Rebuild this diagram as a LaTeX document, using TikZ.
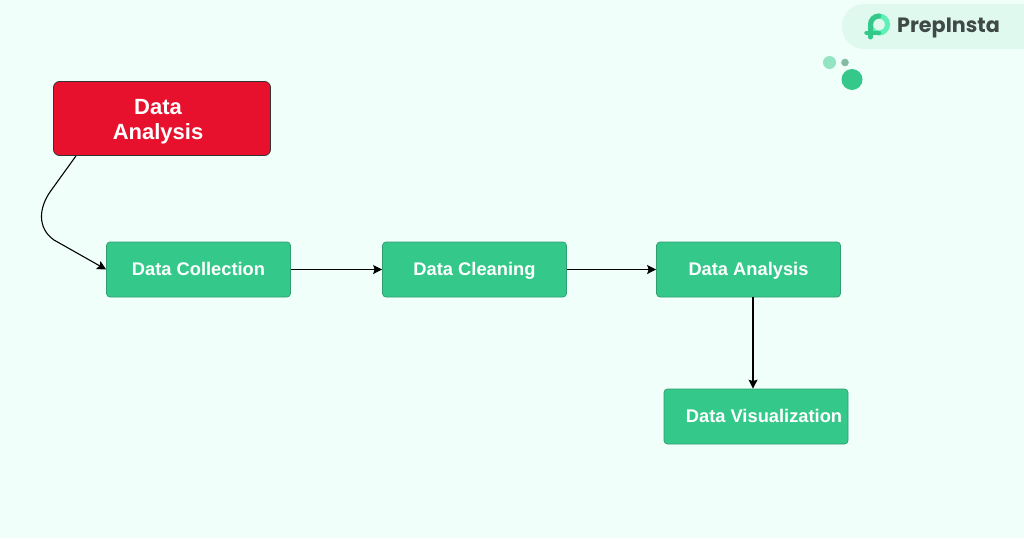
\documentclass[tikz,border=0pt]{standalone}
\usepackage{fontspec}
\setmainfont{Liberation Sans}
\newfontfamily\logofont{Poppins}
\usetikzlibrary{arrows.meta}
\definecolor{bgc}{HTML}{F1FFFA}
\definecolor{greenbox}{HTML}{34C98A}
\definecolor{greenedge}{HTML}{2E9E70}
\definecolor{redbox}{HTML}{E8112D}
\definecolor{pill}{HTML}{E0F9EF}
\definecolor{logotxt}{HTML}{3F4A47}
\definecolor{mint}{HTML}{5FF0B8}
\tikzset{
  x=1pt,y=-1pt,
  stagebox/.style={draw=greenedge,line width=0.7pt,fill=greenbox,rounded corners=3.5pt,minimum width=184pt,minimum height=55pt,inner sep=0pt,text=white,text height=15pt,text depth=2.5pt,font=\fontsize{18.3}{22}\selectfont\bfseries},
  rootbox/.style={draw=black!80,line width=0.8pt,fill=redbox,rounded corners=6pt,minimum width=217pt,minimum height=74pt,inner sep=0pt,text=white,align=center,font=\fontsize{22}{25}\selectfont\bfseries},
  link/.style={draw=black,line width=1.1pt,-{Stealth[length=9pt,width=9pt,inset=1.5pt]}}
}
\begin{document}
\begin{tikzpicture}
\useasboundingbox (0,0) rectangle (1024,538);
\fill[bgc] (0,0) rectangle (1024,538);
% logo
\fill[pill,rounded corners=22pt] (842,4) rectangle (1046,49);
\fill[bgc] (1024,0) rectangle (1050,60);
\draw[line width=5pt,color=mint] (879,24.5) circle[radius=8.5];
\draw[line width=5pt,color=greenbox,line cap=round] (879,16) .. controls (874,16) and (870.5,20) .. (870.5,25) -- (870.5,37);
\draw[line width=4.5pt,color=greenbox,line cap=round] (866.5,33) -- (879,33);
\node[inner sep=0pt,anchor=west,text=logotxt,font=\logofont\fontsize{20.7}{24}\selectfont\bfseries] (logo) at (897,28) {PrepInsta};
\fill[greenbox!50!bgc] (829.5,62.5) circle[radius=6.5];
\fill[black!35!greenbox!55!white] (845,62.5) circle[radius=3.8];
\fill[greenbox] (852,79.5) circle[radius=10.5];
% nodes
\node[rootbox] (root) at (162,118.5) {\hspace*{-8pt}\rule{0pt}{22pt}Data\\\hspace*{-8pt}Analysis};
\node[stagebox] (coll) at (198.5,269.5) {Data Collection};
\node[stagebox] (clean) at (474.5,269.5) {Data Cleaning};
\node[stagebox] (anal) at (748.5,269.5) {Data Analysis};
\node[stagebox] (vis) at (756,416.5) {\hspace*{16pt}Data Visualization};
% connectors
\coordinate (rootout) at ([xshift=-86pt]root.south);
\draw[link] (rootout) -- (50,192) .. controls (39,208) and (37,228) .. (54,240) -- (coll.west);
\draw[link] (coll.east) -- (clean.west);
\draw[link] (clean.east) -- (anal.west);
\draw[link] ([xshift=4.5pt]anal.south) -- ([xshift=-3pt]vis.north);
\end{tikzpicture}
\end{document}
